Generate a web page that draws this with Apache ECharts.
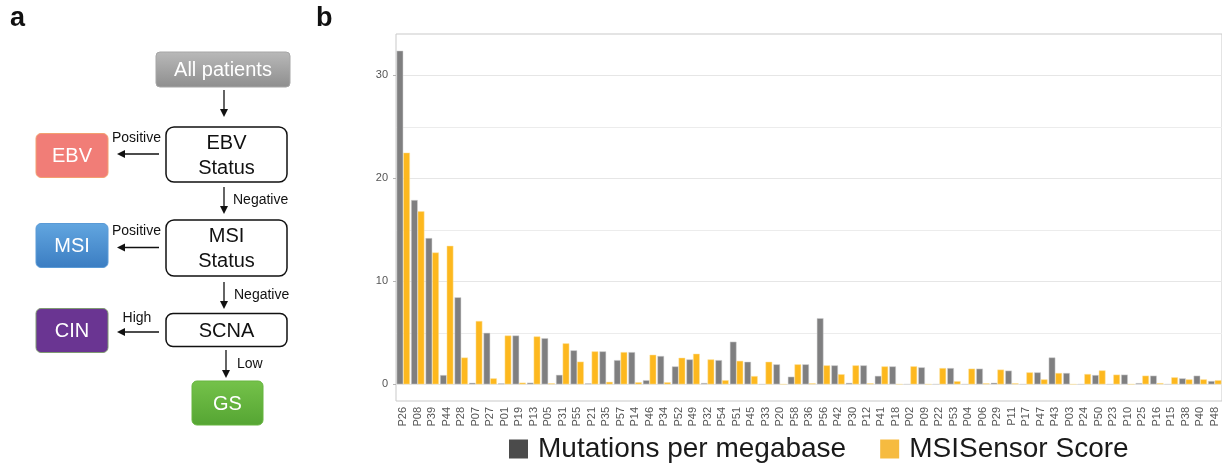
<!DOCTYPE html>
<html>
<head>
<meta charset="utf-8">
<script src="https://cdn.jsdelivr.net/npm/echarts@6.0.0/dist/echarts.min.js"></script>
<style>
html, body { margin: 0; padding: 0; background: #fff; }
#chart { width: 1222px; height: 466px; }
</style>
</head>
<body>
<div id="chart"></div>
<script>
// patients, sorted as in the figure
const patients = ['P26', 'P08', 'P39', 'P44', 'P28', 'P07', 'P27', 'P01', 'P19', 'P13',
  'P05', 'P31', 'P55', 'P21', 'P35', 'P57', 'P14', 'P46', 'P34', 'P52',
  'P49', 'P32', 'P54', 'P51', 'P45', 'P33', 'P20', 'P58', 'P36', 'P56',
  'P42', 'P30', 'P12', 'P41', 'P18', 'P02', 'P09', 'P22', 'P53', 'P04',
  'P06', 'P29', 'P11', 'P17', 'P47', 'P43', 'P03', 'P24', 'P50', 'P23',
  'P10', 'P25', 'P16', 'P15', 'P38', 'P40', 'P48']

const mutationsPerMb = [32.4, 17.9, 14.2, 0.9, 8.45, 0.15, 5.0, 0.1, 4.74, 0.16,
  4.48, 0.92, 3.3, 0.1, 3.2, 2.35, 3.13, 0.4, 2.75, 1.74,
  2.42, 0.13, 2.35, 4.14, 2.19, 0, 1.94, 0.74, 1.94, 6.42,
  1.84, 0.14, 1.84, 0.82, 1.74, 0, 1.65, 0, 1.58, 0,
  1.52, 0.15, 1.33, 0, 1.16, 2.61, 1.1, 0, 0.9, 0,
  0.94, 0.12, 0.84, 0, 0.58, 0.84, 0.32]

const msiSensorScore = [22.5, 16.8, 12.8, 13.45, 2.6, 6.15, 0.58, 4.74, 0.16, 4.65,
  0.1, 3.98, 2.2, 3.2, 0.24, 3.13, 0.2, 2.87, 0.2, 2.58,
  2.97, 2.42, 0.4, 2.28, 0.8, 2.19, 0, 1.94, 0.1, 1.84,
  0.98, 1.84, 0.1, 1.74, 0, 1.75, 0, 1.58, 0.3, 1.52,
  0.1, 1.43, 0.1, 1.16, 0.48, 1.1, 0, 1.0, 1.35, 0.94,
  0, 0.84, 0.12, 0.68, 0.48, 0.48, 0.4]

const yTicks = [0, 10, 20, 30]
const yMinorLines = [5, 15, 25]

const FONT = '"Liberation Sans", Arial, sans-serif'

// ---- panel a: flow chart helpers ----
function box(x, y, w, h, r, fill, stroke, label, color, lw) {
  return [
    { type: 'rect', shape: { x: x, y: y, width: w, height: h, r: r },
      style: { fill: fill, stroke: stroke, lineWidth: lw || 1 } },
    { type: 'text', x: x + w / 2, y: y + h / 2 + 1,
      style: { text: label, fill: color, font: '20px ' + FONT, align: 'center',
        verticalAlign: 'middle', lineHeight: 25 } }
  ]
}

function grad(top, bottom) {
  return new echarts.graphic.LinearGradient(0, 0, 0, 1, [
    { offset: 0, color: top }, { offset: 1, color: bottom }
  ])
}

function arrowDown(x, y1, y2) {
  return [
    { type: 'line', shape: { x1: x, y1: y1, x2: x, y2: y2 - 7 }, style: { stroke: '#111', lineWidth: 1.3 } },
    { type: 'polygon', shape: { points: [[x - 4, y2 - 8], [x + 4, y2 - 8], [x, y2]] }, style: { fill: '#111' } }
  ]
}

function arrowLeft(x1, x2, y) {
  return [
    { type: 'line', shape: { x1: x1, y1: y, x2: x2 + 7, y2: y }, style: { stroke: '#111', lineWidth: 1.3 } },
    { type: 'polygon', shape: { points: [[x2 + 8, y - 4], [x2 + 8, y + 4], [x2, y]] }, style: { fill: '#111' } }
  ]
}

function note(text, x, y, align) {
  return { type: 'text', x: x, y: y,
    style: { text: text, fill: '#111', font: '14px ' + FONT, align: align, verticalAlign: 'middle' } }
}

const flow = [].concat(
  [{ type: 'text', x: 10, y: 19, style: { text: 'a', fill: '#111', font: 'bold 27px ' + FONT, verticalAlign: 'middle' } },
   { type: 'text', x: 316, y: 19, style: { text: 'b', fill: '#111', font: 'bold 27px ' + FONT, verticalAlign: 'middle' } }],
  box(156, 52, 134, 35, 4, grad('#b9b9b9', '#8e8e8e'), '#a6a6a6', 'All patients', '#fff'),
  arrowDown(224, 90, 117),
  box(166, 127, 121, 55, 8, '#fff', '#111', 'EBV\nStatus', '#111', 1.5),
  box(36, 133.5, 72, 44, 5, '#f17d77', '#f3a070', 'EBV', '#fff'),
  arrowLeft(159, 117, 154),
  note('Positive', 136.5, 138, 'center'),
  arrowDown(224, 187, 214),
  note('Negative', 233, 200, 'left'),
  box(166, 220, 121, 56, 8, '#fff', '#111', 'MSI\nStatus', '#111', 1.5),
  box(36, 223.5, 72, 44, 5, grad('#62a6e0', '#3b7dc2'), '#5a9ad6', 'MSI', '#fff'),
  arrowLeft(159, 117, 247.5),
  note('Positive', 136.5, 231.5, 'center'),
  arrowDown(224, 282, 309),
  note('Negative', 234, 295, 'left'),
  box(166, 313.5, 121, 33, 7, '#fff', '#111', 'SCNA', '#111', 1.5),
  box(36, 308.5, 72, 44, 5, '#6a3592', '#7f9a72', 'CIN', '#fff'),
  arrowLeft(159, 117, 332),
  note('High', 137, 318, 'center'),
  arrowDown(226, 350, 378),
  note('Low', 237, 364, 'left'),
  box(192, 381, 71, 44, 5, grad('#75c24a', '#55a533'), '#66b53f', 'GS', '#fff')
)

const chart = echarts.init(document.getElementById('chart'))

chart.setOption({
  backgroundColor: '#fff',
  animation: false,
  graphic: flow,
  grid: {
    left: 396,
    right: 0,
    top: 34,
    bottom: 65,
    show: true,
    borderColor: '#c9c9c9',
    borderWidth: 1,
    containLabel: false
  },
  legend: {
    left: 504,
    top: 430,
    itemWidth: 19,
    itemHeight: 19,
    itemGap: 34,
    icon: 'rect',
    itemStyle: { borderWidth: 0 },
    textStyle: { fontSize: 28, color: '#1a1a1a', fontFamily: FONT, padding: [0, 0, 0, 5] },
    data: [
      { name: 'Mutations per megabase', itemStyle: { color: '#4b4b4b', borderWidth: 0 } },
      { name: 'MSISensor Score', itemStyle: { color: '#f6bb40', borderWidth: 0 } }
    ]
  },
  xAxis: {
    type: 'category',
    data: patients,
    axisLine: { show: false },
    axisTick: { alignWithLabel: true, length: 3, lineStyle: { color: '#b5b5b5' } },
    axisLabel: { rotate: 90, fontSize: 11, color: '#555', fontFamily: FONT, margin: 6, interval: 0 },
    splitLine: { show: false }
  },
  yAxis: {
    type: 'value',
    min: -1.62,
    max: 34.02,
    axisLine: { show: false },
    axisTick: { show: true, length: 3, customValues: yTicks, lineStyle: { color: '#b5b5b5' } },
    axisLabel: { fontSize: 11, color: '#555', fontFamily: FONT, margin: 8, customValues: yTicks },
    splitLine: { show: true, lineStyle: { color: '#e6e6e6', width: 1 } }
  },
  series: [
    {
      name: 'Mutations per megabase',
      type: 'bar',
      data: mutationsPerMb,
      barGap: '0%',
      barCategoryGap: '8%',
      itemStyle: { color: '#7f7f80', borderColor: '#d4d4d4', borderWidth: 0.5 },
      markLine: {
        silent: true,
        symbol: 'none',
        z: 0,
        label: { show: false },
        lineStyle: { color: '#ececec', type: 'solid', width: 1 },
        data: yMinorLines.map(function (v) { return { yAxis: v } })
      }
    },
    {
      name: 'MSISensor Score',
      type: 'bar',
      data: msiSensorScore,
      barGap: '0%',
      barCategoryGap: '8%',
      itemStyle: { color: '#fdb81e', borderColor: '#fde3a0', borderWidth: 0.5 }
    }
  ]
})
</script>
</body>
</html>
